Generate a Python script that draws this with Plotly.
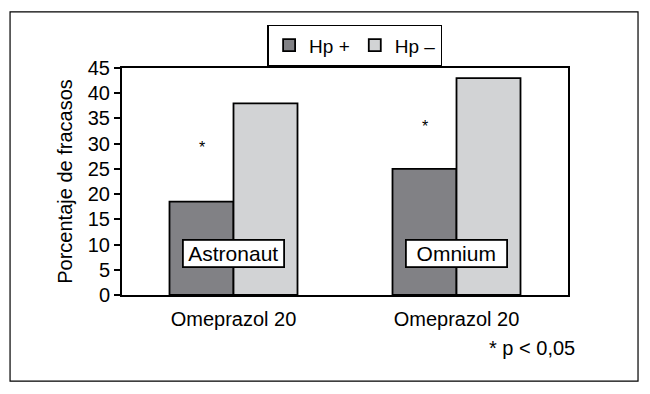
import plotly.graph_objects as go

groups = [0, 1]
group_labels = ["Omeprazol 20", "Omeprazol 20"]
study_names = ["Astronaut", "Omnium"]
hp_pos = [18.5, 25]
hp_neg = [38, 43]
y_ticks = [0, 5, 10, 15, 20, 25, 30, 35, 40, 45]
star_y = [29.3, 33.5]

FONT = "Liberation Sans, Arial, sans-serif"

fig = go.Figure()
fig.add_trace(go.Bar(x=groups, y=hp_pos, name="Hp +",
                     marker=dict(color="#818185", line=dict(color="black", width=1.8))))
fig.add_trace(go.Bar(x=groups, y=hp_neg, name="Hp –",
                     marker=dict(color="#d2d3d5", line=dict(color="black", width=1.8))))

bar_w = 0.287
annotations = []
for g, name, sy in zip(groups, study_names, star_y):
    annotations.append(dict(x=g, y=8.2, xref="x", yref="y", text=name, showarrow=False,
                            width=97, align="center",
                            font=dict(size=21, color="black", family=FONT),
                            bgcolor="white", bordercolor="black", borderwidth=1.8, borderpad=1))
    annotations.append(dict(x=g - bar_w / 2, y=sy, xref="x", yref="y", text="*", showarrow=False,
                            font=dict(size=16, color="black", family=FONT)))
annotations.append(dict(x=1.02, y=-0.233, xref="paper", yref="paper", text="* p < 0,05",
                        showarrow=False, xanchor="right", yanchor="middle",
                        font=dict(size=20, color="black", family=FONT)))

fig.update_layout(
    width=642, height=386,
    margin=dict(l=114, r=82, t=60, b=99),
    paper_bgcolor="white", plot_bgcolor="white",
    barmode="group", bargap=0.426, bargroupgap=0,
    font=dict(family=FONT, size=20, color="black"),
    showlegend=True,
    legend=dict(orientation="h", x=0.522, y=1.099, xanchor="center", yanchor="middle",
                bordercolor="black", borderwidth=1.8, bgcolor="white",
                font=dict(size=19, family=FONT), itemwidth=30, tracegroupgap=0),
    xaxis=dict(range=[-0.5, 1.5], tickvals=groups, ticktext=group_labels,
               showline=True, linecolor="black", linewidth=2, mirror=True,
               ticks="", showgrid=False, zeroline=False, ticklabelstandoff=5,
               tickfont=dict(size=20, family=FONT)),
    yaxis=dict(range=[0, 45], tickvals=y_ticks, showline=True, linecolor="black", linewidth=2,
               mirror=True, ticks="outside", ticklen=6, tickwidth=1.5, tickcolor="black",
               showgrid=False, zeroline=False,
               title=dict(text="Porcentaje de fracasos", font=dict(size=20, family=FONT), standoff=10),
               tickfont=dict(size=20, family=FONT)),
    annotations=annotations,
    shapes=[dict(type="rect", xref="paper", yref="paper", x0=-0.251, x1=1.157, y0=-0.379, y1=1.247,
                 line=dict(color="black", width=1.2), fillcolor="rgba(0,0,0,0)")],
)

fig.write_html("out.html")
